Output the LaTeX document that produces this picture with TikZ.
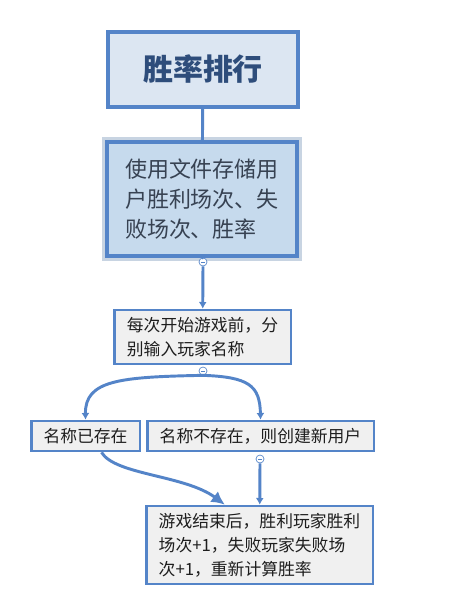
\documentclass[tikz,border=0pt]{standalone}
\usepackage{fontspec}
\setmainfont{Noto Sans CJK SC}
\usepackage{tikz}
\usetikzlibrary{arrows.meta,positioning}
\definecolor{edge}{RGB}{84,132,200}
\definecolor{topfill}{RGB}{220,230,242}
\definecolor{topink}{RGB}{46,77,123}
\definecolor{notefill}{RGB}{198,218,237}
\definecolor{noteink}{RGB}{55,66,82}
\definecolor{glow}{RGB}{200,212,226}
\definecolor{stepfill}{RGB}{240,240,240}
\definecolor{stepink}{RGB}{30,30,30}

\begin{document}
\begin{tikzpicture}[x=0.75pt, y=-0.75pt, >={Latex[length=5pt,width=6pt]},
  stepbox/.style={draw=edge,line width=2pt,fill=stepfill,text=stepink,align=left,inner sep=0pt,font=\fontsize{12.6}{18}\selectfont},
  fold/.style={circle,draw=edge,fill=white,line width=0.5pt,minimum size=6pt,inner sep=0pt,
    path picture={\draw[edge,line width=0.5pt] ([xshift=-1.5pt]path picture bounding box.center) -- ([xshift=1.5pt]path picture bounding box.center);}},
  link/.style={draw=edge,line width=2.2pt}]
\fill[white] (0,0) rectangle (452,612);
\useasboundingbox (0,0) rectangle (452,612);

\node(title)[draw=edge,line width=3pt,fill=topfill,text=topink,minimum width=142.5pt,minimum height=56pt,font=\fontsize{22.5}{26}\selectfont\bfseries] at (203,69.5){胜率排行};
\node(store)[draw=edge,line width=3pt,fill=notefill,text=noteink,preaction={draw=glow,line width=7pt},minimum width=142.5pt,minimum height=85.5pt,align=left,inner sep=0pt,font=\fontsize{16.5}{22.5}\selectfont] at (202,199){使用文件存储用\\户胜利场次、失\\败场次、胜率};
\node(input)[stepbox,minimum width=132.5pt,minimum height=40.5pt] at (202.5,337){每次开始游戏前，分\\别输入玩家名称};
\node(known)[stepbox,minimum width=81.5pt,minimum height=22.5pt] at (85.5,436){名称已存在};
\node(fresh)[stepbox,minimum width=170pt,minimum height=22.5pt] at (260.5,436){名称不存在，则创建新用户};
\node(update)[stepbox,minimum width=170pt,minimum height=58.5pt] at (259.5,545){游戏结束后，胜利玩家胜利\\场次+1，失败玩家失败场\\次+1，重新计算胜率};

\node(fold1)[fold] at (203,262){};
\node(fold2)[fold] at (203,371){};
\node(fold3)[fold] at (260,459){};

\draw[link] (title) -- (store);
\draw[link] (store.south) -- (fold1.north);
\draw[link,->] (fold1.south) -- (input);
\draw[link,->] (fold2.south) .. controls (120,377) and (85,380) .. (known.north);
\draw[link,->] (fold2.south) .. controls (248,377) and (260,385) .. (fresh.north);
\draw[link,->] (fold3.south) -- (update);
\draw[link,-{Latex[length=10pt,width=10pt]}] ([xshift=12pt]known.south) .. controls (115,475) and (185,475) .. ([xshift=-26pt]update.north);
\end{tikzpicture}
\end{document}
